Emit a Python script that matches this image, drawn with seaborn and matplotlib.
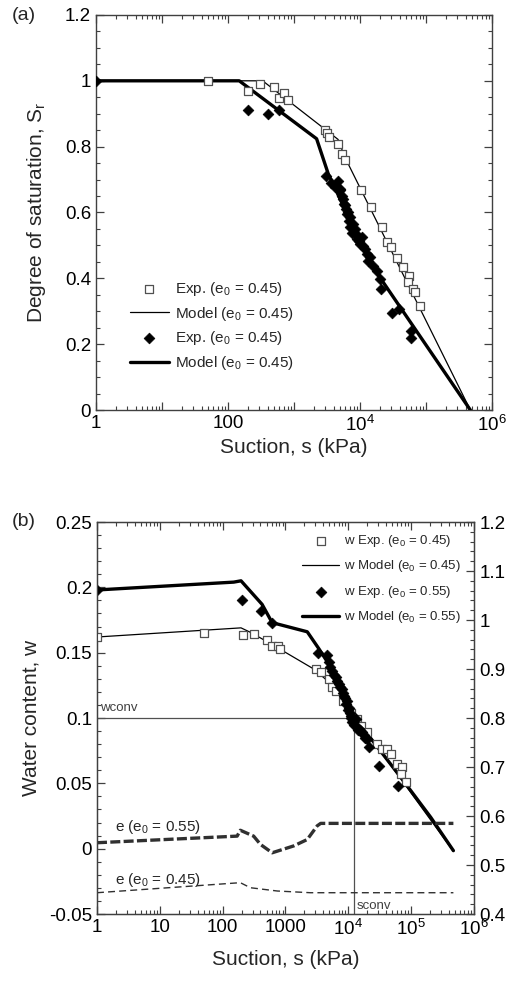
import matplotlib
matplotlib.use('Agg')
import matplotlib.pyplot as plt
import matplotlib.ticker as mticker
import numpy as np
import pandas as pd
import seaborn as sns

# ---- panel (a): degree of saturation vs suction ----
sq_a_s = [50, 204, 303, 500, 600, 707, 818, 2950, 3180, 3430, 4600, 5280, 5910,
          10200, 14500, 21400, 25900, 29000, 36000, 45400, 55000, 52500, 64000, 67600, 81000]
sq_a_sr = [1.0, 0.970, 0.991, 0.981, 0.948, 0.963, 0.941, 0.852, 0.842, 0.829, 0.809, 0.778, 0.758,
           0.669, 0.618, 0.557, 0.509, 0.496, 0.461, 0.433, 0.408, 0.390, 0.367, 0.359, 0.316]

dm_a_s = [1, 204, 410, 600, 3055, 4590, 4980, 5280, 5720, 6140, 6330, 6810, 7180, 7570, 8400,
          9020, 10600, 11200, 12600, 14100, 15900, 17900, 20000, 20500, 30200, 39400, 59500, 58500,
          5000, 5500, 6000, 6500, 7000, 7800, 8800, 9500, 10000, 11800, 13300, 3600, 4200]
dm_a_sr = [1.0, 0.910, 0.900, 0.910, 0.712, 0.697, 0.667, 0.651, 0.627, 0.612, 0.594, 0.575, 0.557, 0.539, 0.550,
           0.521, 0.525, 0.499, 0.474, 0.464, 0.438, 0.423, 0.398, 0.367, 0.296, 0.307, 0.240, 0.218,
           0.672, 0.640, 0.622, 0.600, 0.585, 0.565, 0.535, 0.512, 0.505, 0.488, 0.452, 0.690, 0.676]

model_thin_a_s = [1, 335, 4650, 5900, 470000]
model_thin_a_sr = [1.0, 1.0, 0.822, 0.768, 0.0]
model_thick_a_s = [1, 148, 2200, 3310, 7950, 20000, 470000]
model_thick_a_sr = [1.0, 1.0, 0.824, 0.717, 0.555, 0.403, 0.0]

# ---- panel (b): water content and void ratio vs suction ----
sq_b_s = [1, 51, 209, 312, 510, 614, 753, 832, 3010, 3620, 4910, 5560, 6300, 8130, 10900,
          13900, 15700, 20000, 28800, 34700, 41700, 47300, 60400, 72600, 68400, 82200]
sq_b_w = [0.162, 0.165, 0.1636, 0.1644, 0.160, 0.1554, 0.1554, 0.1529, 0.1376, 0.1350, 0.130, 0.1235, 0.121, 0.1133, 0.104,
          0.0993, 0.0942, 0.089, 0.080, 0.0763, 0.0763, 0.0724, 0.0648, 0.0622, 0.057, 0.0508]

dm_b_s = [1, 204, 414, 613, 3270, 4620, 4900, 5560, 6300, 7100, 8030, 8510, 9640, 10240, 10900,
          11600, 13100, 13900, 16700, 20100, 21400, 30800, 61200,
          5200, 5900, 6700, 7500, 8200, 9000, 9300, 10000, 10500, 11200, 12000, 12500, 14500, 15500, 17500, 18500]
dm_b_w = [0.198, 0.190, 0.182, 0.173, 0.150, 0.148, 0.1427, 0.1363, 0.1312, 0.126, 0.1222, 0.117, 0.1133, 0.108, 0.1018,
          0.0966, 0.0993, 0.0929, 0.089, 0.084, 0.0776, 0.0636, 0.0482,
          0.139, 0.133, 0.128, 0.1235, 0.119, 0.115, 0.111, 0.106, 0.104, 0.100, 0.098, 0.095, 0.091, 0.0905, 0.087, 0.085]

model_thin_b_s = [1, 196, 276, 576, 2820, 6300, 10900, 68400, 470000]
model_thin_b_w = [0.162, 0.169, 0.1656, 0.157, 0.1375, 0.123, 0.105, 0.0535, -0.002]
model_thick_b_s = [1, 150, 196, 424, 613, 2220, 3400, 5240, 7540, 10900, 20100, 68400, 205000, 470000]
model_thick_b_w = [0.198, 0.204, 0.205, 0.187, 0.173, 0.166, 0.153, 0.139, 0.1235, 0.108, 0.0878, 0.0546, 0.024, -0.0015]

e055_s = [1, 170, 191, 311, 400, 614, 1350, 2215, 3200, 3630, 470000]
e055_e = [0.5455, 0.559, 0.571, 0.559, 0.542, 0.525, 0.539, 0.552, 0.580, 0.585, 0.585]
e045_s = [1, 191, 276, 740, 2500, 470000]
e045_e = [0.4435, 0.464, 0.4537, 0.447, 0.4435, 0.4435]

wconv = 0.1
sconv = 12300

xlabels_a = ['1', '', '100', '', '10$^{4}$', '', '10$^{6}$']
xlabels_b = ['1', '10', '100', '1000', '10$^{4}$', '10$^{5}$', '10$^{6}$']

sns.set_style('ticks')
plt.rcParams['font.family'] = ['Liberation Sans', 'DejaVu Sans']
plt.rcParams['mathtext.fontset'] = 'custom'
plt.rcParams['mathtext.rm'] = 'Liberation Sans'
plt.rcParams['mathtext.it'] = 'Liberation Sans:italic'
plt.rcParams['mathtext.bf'] = 'Liberation Sans:bold'
plt.rcParams['axes.unicode_minus'] = False

SPINE = '#404040'
TICK_FS = 13.5
LAB_FS = 15


def style_axis(ax, xlabels):
	ax.set_xscale('log')
	ax.set_xlim(1, 1e6)
	ax.xaxis.set_major_locator(mticker.FixedLocator([10.0 ** k for k in range(7)]))
	ax.xaxis.set_major_formatter(mticker.FixedFormatter(xlabels))
	ax.xaxis.set_minor_locator(mticker.LogLocator(base=10, subs=np.arange(2, 10), numticks=20))
	ax.xaxis.set_minor_formatter(mticker.NullFormatter())
	for sp in ax.spines.values():
		sp.set_color(SPINE)
		sp.set_linewidth(1.0)
		sp.set_visible(True)
	ax.tick_params(which='both', direction='in', colors=SPINE, labelcolor='black', labelsize=TICK_FS)
	ax.tick_params(which='major', length=6, width=0.9)
	ax.tick_params(which='minor', length=3, width=0.8)
	ax.yaxis.set_major_formatter(mticker.FormatStrFormatter('%g'))


fig = plt.figure(figsize=(5.07, 9.84), dpi=100)
ax1 = fig.add_axes([0.1893, 0.5833, 0.7811, 0.4015])
ax2 = fig.add_axes([0.1913, 0.0711, 0.7436, 0.3984])

# ---------- panel (a) ----------
style_axis(ax1, xlabels_a)
ax1.tick_params(which='both', top=True, right=True)
sns.scatterplot(x=sq_a_s, y=sq_a_sr, ax=ax1, marker='s', s=30, facecolor='white',
                edgecolor='#505050', linewidth=0.9, label='Exp. (e$_0$ = 0.45)', zorder=4)
sns.lineplot(x=model_thin_a_s, y=model_thin_a_sr, ax=ax1, color='black', linewidth=0.9,
             sort=False, estimator=None, label='Model (e$_0$ = 0.45)', zorder=3)
sns.scatterplot(x=dm_a_s, y=dm_a_sr, ax=ax1, marker='D', s=30, color='black',
                edgecolor='black', linewidth=0.5, label='Exp. (e$_0$ = 0.45)', zorder=5)
sns.lineplot(x=model_thick_a_s, y=model_thick_a_sr, ax=ax1, color='black', linewidth=2.4,
             sort=False, estimator=None, label='Model (e$_0$ = 0.45)', zorder=3)
ax1.set_ylim(0, 1.2)
ax1.yaxis.set_major_locator(mticker.MultipleLocator(0.2))
ax1.yaxis.set_minor_locator(mticker.MultipleLocator(0.05))
ax1.set_xlabel('Suction, s (kPa)', fontsize=LAB_FS, labelpad=2)
ax1.set_ylabel('Degree of saturation, S$_\\mathrm{r}$', fontsize=LAB_FS, labelpad=12)
h, l = ax1.get_legend_handles_labels()
ax1.legend(h, l, loc='upper left', bbox_to_anchor=(0.085, 0.33), frameon=False, fontsize=11,
           handlelength=2.6, handletextpad=0.35, labelspacing=0.45, borderpad=0, borderaxespad=0)

# ---------- panel (b) ----------
style_axis(ax2, xlabels_b)
ax2.tick_params(which='both', top=True, right=False)
sns.lineplot(x=[1, sconv, sconv], y=[wconv, wconv, -0.05], ax=ax2, color='#505050', linewidth=0.9,
             sort=False, estimator=None, zorder=2)
sns.scatterplot(x=sq_b_s, y=sq_b_w, ax=ax2, marker='s', s=30, facecolor='white',
                edgecolor='#505050', linewidth=0.9, label='w Exp. (e$_0$ = 0.45)', zorder=4)
sns.lineplot(x=model_thin_b_s, y=model_thin_b_w, ax=ax2, color='black', linewidth=0.9,
             sort=False, estimator=None, label='w Model (e$_0$ = 0.45)', zorder=3)
sns.scatterplot(x=dm_b_s, y=dm_b_w, ax=ax2, marker='D', s=30, color='black',
                edgecolor='black', linewidth=0.5, label='w Exp. (e$_0$ = 0.55)', zorder=5)
sns.lineplot(x=model_thick_b_s, y=model_thick_b_w, ax=ax2, color='black', linewidth=2.4,
             sort=False, estimator=None, label='w Model (e$_0$ = 0.55)', zorder=3)
ax2.set_ylim(-0.05, 0.25)
ax2.yaxis.set_major_locator(mticker.MultipleLocator(0.05))
ax2.yaxis.set_minor_locator(mticker.MultipleLocator(0.01))
ax2.set_xlabel('Suction, s (kPa)', fontsize=LAB_FS, labelpad=8)
ax2.set_ylabel('Water content, w', fontsize=LAB_FS, labelpad=6)
h, l = ax2.get_legend_handles_labels()
ax2.legend(h, l, loc='upper left', bbox_to_anchor=(0.545, 0.972), frameon=False, fontsize=9.5,
           handlelength=2.8, handletextpad=0.35, labelspacing=0.72, borderpad=0, borderaxespad=0)
ax2.text(1.12, wconv + 0.003, 'wconv', fontsize=9.5, color='#404040', va='bottom', ha='left')
ax2.text(sconv * 1.1, -0.046, 'sconv', fontsize=9.5, color='#404040', va='baseline', ha='left')
ax2.text(1.93, 0.0138, 'e (e$_0$ = 0.55)', fontsize=11, va='baseline', ha='left')
ax2.text(1.93, -0.0268, 'e (e$_0$ = 0.45)', fontsize=11, va='baseline', ha='left')

ax3 = ax2.twinx()
sns.lineplot(x=e055_s, y=e055_e, ax=ax3, color='#303030', linewidth=2.4, linestyle=(0, (3, 1)),
             sort=False, estimator=None)
sns.lineplot(x=e045_s, y=e045_e, ax=ax3, color='#303030', linewidth=1.0, linestyle=(0, (5, 3)),
             sort=False, estimator=None)
ax3.set_ylim(0.4, 1.2)
ax3.set_ylabel('')
ax3.yaxis.set_major_locator(mticker.MultipleLocator(0.1))
ax3.yaxis.set_minor_locator(mticker.MultipleLocator(0.02))
ax3.yaxis.set_major_formatter(mticker.FormatStrFormatter('%g'))
for sp in ax3.spines.values():
	sp.set_color(SPINE)
	sp.set_visible(True)
ax3.tick_params(which='both', direction='in', colors=SPINE, labelcolor='black', labelsize=TICK_FS)
ax3.tick_params(which='major', length=6, width=0.9, pad=4)
ax3.tick_params(which='minor', length=3, width=0.8)
ax3.set_xlim(1, 1e6)

fig.text(12 / 507, 1 - 16 / 984, '(a)', fontsize=14, va='center', ha='left')
fig.text(12 / 507, 1 - 522 / 984, '(b)', fontsize=14, va='center', ha='left')

fig.savefig('out.png', dpi=100)
